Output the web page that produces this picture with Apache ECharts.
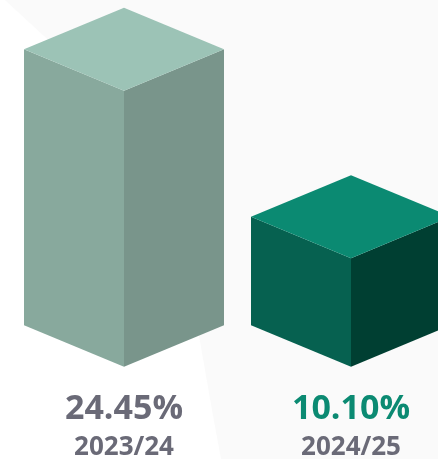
<!DOCTYPE html>
<html>
<head>
<meta charset="utf-8">
<script src="https://cdn.jsdelivr.net/npm/echarts@6/dist/echarts.min.js"></script>
<style>
  html, body { margin: 0; padding: 0; background: #fafafa; }
  #chart { width: 438px; height: 459px; }
</style>
</head>
<body>
<div id="chart"></div>
<script>
// periods and rates
const periods = ['2023/24', '2024/25'];
const rates = [24.45, 10.10];

// box face colours, one entry per period
const palette = [
  { top: '#9cc3b6', left: '#88a99d', right: '#79958b', text: '#6a6a77' },
  { top: '#0b8a72', left: '#066150', right: '#003f32', text: '#0b8a72' }
];

const yMin = 0.8;
const yMax = 30;

const chart = echarts.init(document.getElementById('chart'));

// draws one isometric box per category
function renderBox(params, api) {
  const idx = params.dataIndex;
  const c = palette[idx];
  const base = api.coord([api.value(0), yMin]);
  const top = api.coord([api.value(0), api.value(1)]);
  const band = api.size([1, 0])[0];
  const hw = band * 0.4405;
  const dy = hw * 0.415;
  const cx = base[0];
  const yb = base[1];
  const yt = top[1];

  return {
    type: 'group',
    children: [
      {
        type: 'polygon',
        shape: { points: [[cx - hw, yt - dy], [cx, yt], [cx, yb], [cx - hw, yb - dy]] },
        style: { fill: c.left }
      },
      {
        type: 'polygon',
        shape: { points: [[cx, yt], [cx + hw, yt - dy], [cx + hw, yb - dy], [cx, yb]] },
        style: { fill: c.right }
      },
      {
        type: 'polygon',
        shape: { points: [[cx - hw, yt - dy], [cx, yt - 2 * dy], [cx + hw, yt - dy], [cx, yt]] },
        style: { fill: c.top }
      },
      {
        type: 'text',
        x: cx,
        y: yb + 43,
        style: {
          text: api.value(1).toFixed(2) + '%',
          fill: c.text,
          fontFamily: 'Open Sans',
          fontWeight: 'bold',
          fontSize: 34,
          align: 'center',
          verticalAlign: 'middle'
        }
      },
      {
        type: 'text',
        x: cx,
        y: yb + 81,
        style: {
          text: periods[idx],
          fill: '#6a6a77',
          fontFamily: 'Open Sans',
          fontWeight: 'bold',
          fontSize: 26,
          align: 'center',
          verticalAlign: 'middle'
        }
      }
    ]
  };
}

const option = {
  backgroundColor: '#fafafa',
  animation: false,
  graphic: [
    {
      type: 'polygon',
      z: -10,
      shape: {
        points: [[0, 0], [5, 0], [70, 60], [192, 300], [198, 330], [205, 370], [212, 410], [221, 459], [0, 459]]
      },
      style: { fill: '#ffffff' }
    }
  ],
  grid: {
    left: 10.5,
    width: 454,
    top: 25.93,
    height: 340.77,
    outerBoundsMode: 'none'
  },
  xAxis: {
    type: 'category',
    data: periods,
    show: false
  },
  yAxis: {
    type: 'value',
    min: yMin,
    max: yMax,
    show: false
  },
  series: [
    {
      type: 'custom',
      renderItem: renderBox,
      encode: { x: 0, y: 1 },
      data: periods.map((p, i) => [i, rates[i]]),
      clip: false
    }
  ]
};

chart.setOption(option);
</script>
</body>
</html>
